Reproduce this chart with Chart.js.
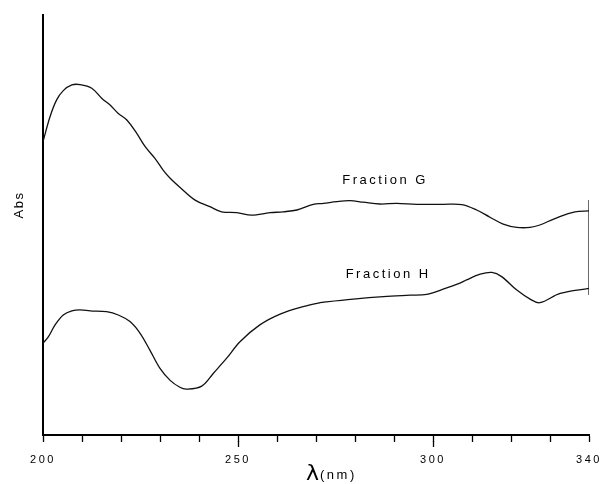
<!DOCTYPE html>
<html>
<head>
<meta charset="utf-8">
<script src="https://cdn.jsdelivr.net/npm/chart.js@4/dist/chart.umd.min.js"></script>
<style>
html,body{margin:0;padding:0;background:#fff;}
#wrap{width:605px;height:484px;position:relative;}
</style>
</head>
<body>
<div id="wrap"><canvas id="c" width="605" height="484"></canvas></div>
<script>
// ---- data (wavelength in nm, absorbance in arbitrary units) ----
const wavelengthG = [200,201.8,203.5,205.2,207.4,209.5,212.5,215.1,217.2,219.3,221.5,224.0,226.2,228.7,230.8,232.6,235.1,239.0,242.8,245.8,249.7,253.5,258.2,261.6,265.1,269.3,271.9,275.3,278.7,282.1,286.4,290.7,295.8,302.6,307.4,311.2,314.6,318.0,321.5,324.9,327.4,330.8,334.3,336.4,340];
const absG        = [0.978,1.061,1.117,1.148,1.167,1.168,1.156,1.122,1.100,1.072,1.050,1.006,0.961,0.922,0.883,0.856,0.826,0.783,0.761,0.744,0.741,0.733,0.741,0.744,0.750,0.769,0.772,0.778,0.781,0.776,0.770,0.772,0.769,0.769,0.768,0.750,0.726,0.703,0.692,0.692,0.700,0.719,0.736,0.744,0.747];
const wavelengthH = [200,201.4,203.1,205.2,207.4,209.5,212.1,216.3,219.3,222.3,224.9,227.4,230.0,232.6,235.1,236.8,240.7,243.7,247.1,250.5,255.6,260.8,266.7,271.0,272.7,279.6,287.3,294.1,298.4,302.6,306.9,308.6,312.1,315.1,317.6,321.5,324.9,327.4,332.6,340];
const absH        = [0.306,0.328,0.367,0.400,0.414,0.417,0.414,0.411,0.400,0.378,0.339,0.283,0.222,0.182,0.159,0.153,0.163,0.206,0.256,0.311,0.367,0.403,0.428,0.441,0.444,0.453,0.461,0.466,0.469,0.486,0.506,0.517,0.536,0.542,0.528,0.483,0.453,0.441,0.472,0.489];
const endMarkerX  = [340,340];
const endMarkerY  = [0.783,0.467];
const xTickLabels = [200,250,300,340];
const majorTicks  = [250,300];
const seriesNames = ['Fraction G','Fraction H'];
const labelAnchors = [{x:287.7,y:0.850},{x:288.5,y:0.535}];

const toPts = (xs, ys) => xs.map((x,i)=>({x:x,y:ys[i]}));
const FONT = "'Liberation Sans', Arial, Helvetica, sans-serif";

const textPlugin = {
  id:'texts',
  beforeDraw(chart){ chart.ctx.letterSpacing = '2.5px'; },
  afterDraw(chart){
    const ctx = chart.ctx, xs = chart.scales.x, ys = chart.scales.y;
    ctx.save();
    // longer ticks for major labels
    ctx.strokeStyle = '#000'; ctx.lineWidth = 1.3;
    majorTicks.forEach(v=>{
      const px = Math.round(xs.getPixelForValue(v))+0.5;
      ctx.beginPath(); ctx.moveTo(px, xs.top+6); ctx.lineTo(px, xs.top+12); ctx.stroke();
    });
    // series labels
    ctx.fillStyle = '#000';
    ctx.letterSpacing = '2.5px';
    ctx.font = '13px ' + FONT;
    ctx.textAlign = 'center'; ctx.textBaseline = 'middle';
    seriesNames.forEach((t,i)=>{
      ctx.fillText(t, xs.getPixelForValue(labelAnchors[i].x), ys.getPixelForValue(labelAnchors[i].y));
    });
    // y-axis title
    ctx.save();
    ctx.translate(19, 205);
    ctx.rotate(-Math.PI/2);
    ctx.letterSpacing = '1.5px';
    ctx.font = '13px ' + FONT;
    ctx.fillText('Abs', 0, 0);
    ctx.restore();
    // x-axis title: λ(nm)
    ctx.textAlign = 'left'; ctx.textBaseline = 'alphabetic';
    ctx.letterSpacing = '0px';
    ctx.font = "22px 'DejaVu Sans', sans-serif";
    const lx = 306;
    ctx.fillText('λ', lx, 480);
    const lw = ctx.measureText('λ').width;
    ctx.letterSpacing = '2.5px';
    ctx.font = '13px ' + FONT;
    ctx.fillText('(nm)', lx + lw + 1, 479);
    ctx.restore();
  }
};

new Chart(document.getElementById('c'), {
  type:'line',
  data:{
    datasets:[
      {label:seriesNames[0], data:toPts(wavelengthG,absG), borderColor:'#111', borderWidth:1.3, pointRadius:0, tension:0.35, fill:false},
      {label:seriesNames[1], data:toPts(wavelengthH,absH), borderColor:'#111', borderWidth:1.3, pointRadius:0, tension:0.35, fill:false},
      {label:'end', data:toPts(endMarkerX,endMarkerY), borderColor:'#555', borderWidth:1, pointRadius:0, tension:0, fill:false}
    ]
  },
  options:{
    responsive:false,
    animation:false,
    devicePixelRatio:1,
    layout:{padding:{top:15,right:16,bottom:0,left:0}},
    plugins:{legend:{display:false}, tooltip:{enabled:false}},
    scales:{
      x:{
        type:'linear', min:200, max:340,
        afterFit(s){ s.height = 49; s.paddingRight = 0; s.paddingLeft = 0; },
        ticks:{stepSize:10, autoSkip:false, maxRotation:0, color:'#000', padding:11,
          font:{family:FONT, size:11},
          callback:(v)=> xTickLabels.includes(v) ? String(v) : ''},
        grid:{display:true, drawOnChartArea:false, drawTicks:true, tickLength:7, tickColor:'#000', tickWidth:1.3},
        border:{display:true, color:'#000', width:2}
      },
      y:{
        min:0, max:1.4,
        afterFit(s){ s.width = 43; },
        ticks:{display:false},
        grid:{display:false, drawTicks:false},
        border:{display:true, color:'#000', width:2}
      }
    }
  },
  plugins:[textPlugin]
});
</script>
</body>
</html>
